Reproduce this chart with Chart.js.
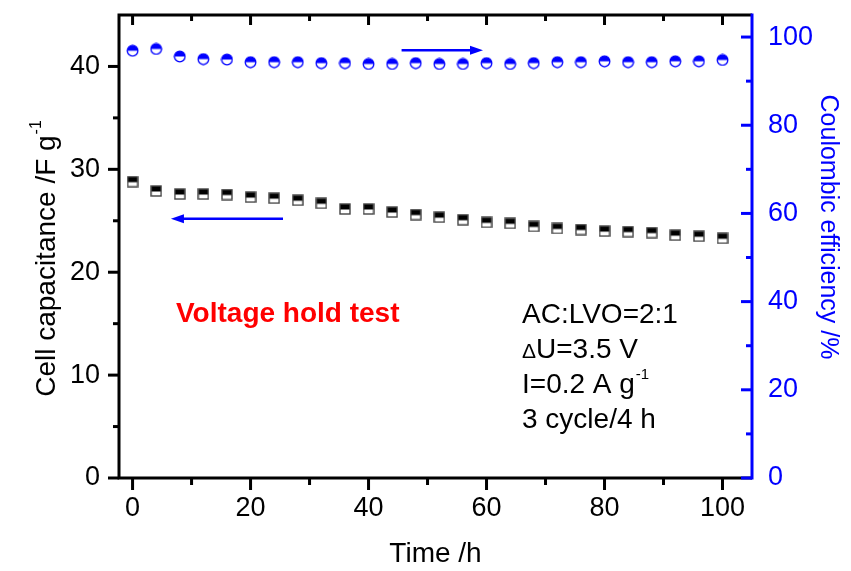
<!DOCTYPE html>
<html>
<head>
<meta charset="utf-8">
<title>Voltage hold test</title>
<script src="https://cdn.jsdelivr.net/npm/chart.js@4.4.0/dist/chart.umd.min.js"></script>
<style>
  html, body { margin: 0; padding: 0; background: #fff; }
  #wrap { width: 851px; height: 571px; }
</style>
</head>
<body>
<div id="wrap"><canvas id="chart" width="851" height="571"></canvas></div>
<script>
// --- data ---
const timeHours = [0, 4, 8, 12, 16, 20, 24, 28, 32, 36, 40, 44, 48, 52, 56, 60, 64, 68, 72, 76, 80, 84, 88, 92, 96, 100];
const capacitance = [28.8, 27.9, 27.6, 27.6, 27.55, 27.3, 27.2, 27.0, 26.7, 26.15, 26.15, 25.85, 25.6,
                     25.35, 25.1, 24.85, 24.75, 24.45, 24.25, 24.15, 24.0, 23.95, 23.85, 23.6, 23.5, 23.3];
const efficiency = [96.9, 97.3, 95.6, 95.0, 94.9, 94.3, 94.3, 94.3, 94.1, 94.1, 93.9, 93.9, 94.1,
                    93.9, 93.9, 94.1, 93.9, 94.1, 94.3, 94.3, 94.5, 94.3, 94.3, 94.5, 94.5, 94.8];

const xTicks = [0, 20, 40, 60, 80, 100];
const capTicks = [0, 10, 20, 30, 40];
const effTicks = [0, 20, 40, 60, 80, 100];

// arrows pointing to the axis each series belongs to
const effArrowX = [45.6, 59.4];   // tail -> head, on the efficiency axis
const effArrowY = 97.0;
const capArrowX = [25.5, 6.5];    // tail -> head, on the capacitance axis
const capArrowY = 25.2;

const noteLines = ['AC:LVO=2:1', 'U=3.5 V', 'I=0.2 A g', '3 cycle/4 h'];

const FONT = '"Liberation Sans", Arial, Helvetica, sans-serif';
const BLUE = '#0000ff';

// half filled markers, like Origin's
function halfSquare() {
  const c = document.createElement('canvas');
  c.width = 12; c.height = 12;
  const g = c.getContext('2d');
  g.fillStyle = '#fff';
  g.fillRect(1, 1, 10, 10);
  g.fillStyle = '#000';
  g.fillRect(1, 1, 10, 5.5);
  g.strokeStyle = '#444';
  g.lineWidth = 1.4;
  g.strokeRect(1, 1, 10, 10);
  return c;
}

function halfCircle() {
  const c = document.createElement('canvas');
  c.width = 13; c.height = 13;
  const g = c.getContext('2d');
  g.fillStyle = '#fff';
  g.beginPath(); g.arc(6.5, 6.5, 5.3, 0, Math.PI * 2); g.fill();
  g.fillStyle = BLUE;
  g.beginPath(); g.arc(6.5, 6.5, 5.3, Math.PI, Math.PI * 2); g.closePath(); g.fill();
  g.strokeStyle = BLUE;
  g.lineWidth = 1.3;
  g.beginPath(); g.arc(6.5, 6.5, 5.3, 0, Math.PI * 2); g.stroke();
  return c;
}

function midpoints(arr) {
  const out = [];
  for (let i = 0; i < arr.length - 1; i++) out.push((arr[i] + arr[i + 1]) / 2);
  return out;
}

function arrow(ctx, x1, x2, yy, color) {
  const dir = Math.sign(x2 - x1);
  ctx.strokeStyle = color;
  ctx.fillStyle = color;
  ctx.lineWidth = 2.5;
  ctx.beginPath();
  ctx.moveTo(x1, yy);
  ctx.lineTo(x2 - dir * 10, yy);
  ctx.stroke();
  ctx.beginPath();
  ctx.moveTo(x2, yy);
  ctx.lineTo(x2 - dir * 13, yy - 4.5);
  ctx.lineTo(x2 - dir * 13, yy + 4.5);
  ctx.closePath();
  ctx.fill();
}

// axes frame, ticks, titles, arrows and notes
const decor = {
  id: 'decor',
  afterDatasetsDraw(chart) {
    const { ctx, chartArea: a, scales: { x, y, y1 } } = chart;
    ctx.save();
    ctx.lineCap = 'butt';

    // black frame: left, bottom, top
    ctx.strokeStyle = '#000';
    ctx.lineWidth = 3;
    ctx.beginPath();
    ctx.moveTo(a.left, a.top - 1.5); ctx.lineTo(a.left, a.bottom + 1.5);
    ctx.moveTo(a.left - 1.5, a.bottom); ctx.lineTo(a.right, a.bottom);
    ctx.moveTo(a.left - 1.5, a.top); ctx.lineTo(a.right, a.top);
    ctx.stroke();

    // x ticks: outward at the bottom, inward at the top
    xTicks.forEach(v => {
      const px = x.getPixelForValue(v);
      ctx.beginPath();
      ctx.moveTo(px, a.bottom); ctx.lineTo(px, a.bottom + 12);
      ctx.moveTo(px, a.top); ctx.lineTo(px, a.top + 10);
      ctx.stroke();
    });
    midpoints(xTicks).forEach(v => {
      const px = x.getPixelForValue(v);
      ctx.beginPath();
      ctx.moveTo(px, a.bottom); ctx.lineTo(px, a.bottom + 7);
      ctx.moveTo(px, a.top); ctx.lineTo(px, a.top + 6);
      ctx.stroke();
    });

    // left ticks, outward
    capTicks.forEach(v => {
      const py = y.getPixelForValue(v);
      ctx.beginPath(); ctx.moveTo(a.left, py); ctx.lineTo(a.left - 11, py); ctx.stroke();
    });
    midpoints(capTicks).forEach(v => {
      const py = y.getPixelForValue(v);
      ctx.beginPath(); ctx.moveTo(a.left, py); ctx.lineTo(a.left - 6, py); ctx.stroke();
    });

    // right axis in blue, ticks inward
    ctx.strokeStyle = BLUE;
    ctx.beginPath();
    ctx.moveTo(a.right, a.top - 1.5); ctx.lineTo(a.right, a.bottom + 1.5);
    ctx.stroke();
    effTicks.forEach(v => {
      const py = y1.getPixelForValue(v);
      ctx.beginPath(); ctx.moveTo(a.right, py); ctx.lineTo(a.right - 11, py); ctx.stroke();
    });
    midpoints(effTicks).forEach(v => {
      const py = y1.getPixelForValue(v);
      ctx.beginPath(); ctx.moveTo(a.right, py); ctx.lineTo(a.right - 6, py); ctx.stroke();
    });

    // arrows
    arrow(ctx, x.getPixelForValue(effArrowX[0]), x.getPixelForValue(effArrowX[1]), y1.getPixelForValue(effArrowY), BLUE);
    arrow(ctx, x.getPixelForValue(capArrowX[0]), x.getPixelForValue(capArrowX[1]), y.getPixelForValue(capArrowY), BLUE);

    // axis titles
    ctx.fillStyle = '#000';
    ctx.textBaseline = 'alphabetic';
    ctx.font = '28px ' + FONT;
    ctx.textAlign = 'center';
    ctx.fillText('Time /h', (a.left + a.right) / 2, 562);

    ctx.save();
    ctx.translate(55, 259);
    ctx.rotate(-Math.PI / 2);
    ctx.textAlign = 'left';
    const mainT = 'Cell capacitance /F g';
    ctx.font = '28px ' + FONT;
    const wMain = ctx.measureText(mainT).width;
    ctx.font = '16px ' + FONT;
    const wSup = ctx.measureText('-1').width;
    const x0 = -(wMain + wSup) / 2;
    ctx.font = '28px ' + FONT;
    ctx.fillText(mainT, x0, 0);
    ctx.font = '16px ' + FONT;
    ctx.fillText('-1', x0 + wMain + 1, -14);
    ctx.restore();

    ctx.save();
    ctx.translate(821, 227);
    ctx.rotate(Math.PI / 2);
    ctx.fillStyle = BLUE;
    ctx.textAlign = 'center';
    ctx.font = '25px ' + FONT;
    ctx.fillText('Coulombic efficiency /%', 0, 0);
    ctx.restore();

    // notes
    ctx.textAlign = 'left';
    ctx.fillStyle = '#ff0000';
    ctx.font = 'bold 28px ' + FONT;
    ctx.fillText('Voltage hold test', 176, 322);

    ctx.fillStyle = '#000';
    const nx = 522;
    const base = [323, 358, 393, 428];
    ctx.font = '28px ' + FONT;
    ctx.fillText(noteLines[0], nx, base[0]);
    // delta sign is a bit smaller in the original
    ctx.font = '21px ' + FONT;
    ctx.fillText('\u0394', nx, base[1]);
    const wD = ctx.measureText('\u0394').width;
    ctx.font = '28px ' + FONT;
    ctx.fillText(noteLines[1], nx + wD, base[1]);
    ctx.fillText(noteLines[2], nx, base[2]);
    const wI = ctx.measureText(noteLines[2]).width;
    ctx.font = '15px ' + FONT;
    ctx.fillText('-1', nx + wI + 1, base[2] - 14);
    ctx.font = '28px ' + FONT;
    ctx.fillText(noteLines[3], nx, base[3]);

    ctx.restore();
  }
};

const tickFont = { family: FONT, size: 27 };

new Chart(document.getElementById('chart'), {
  type: 'scatter',
  data: {
    datasets: [
      {
        label: 'Cell capacitance',
        data: timeHours.map((t, i) => ({ x: t, y: capacitance[i] })),
        yAxisID: 'y',
        pointStyle: halfSquare(),
        pointRadius: 5,
        showLine: false
      },
      {
        label: 'Coulombic efficiency',
        data: timeHours.map((t, i) => ({ x: t, y: efficiency[i] })),
        yAxisID: 'y1',
        pointStyle: halfCircle(),
        pointRadius: 5,
        showLine: false
      }
    ]
  },
  options: {
    responsive: false,
    animation: false,
    layout: { padding: { top: 15, left: 0, right: 0, bottom: 0 } },
    plugins: {
      legend: { display: false },
      tooltip: { enabled: false }
    },
    scales: {
      x: {
        type: 'linear',
        min: -2.3,
        max: 105,
        afterBuildTicks: s => { s.ticks = xTicks.map(v => ({ value: v })); },
        afterFit: s => { s.height = 93; s.paddingLeft = 0; s.paddingRight = 0; },
        grid: { display: false },
        border: { display: false },
        ticks: { font: tickFont, color: '#000', padding: 6, maxRotation: 0 }
      },
      y: {
        type: 'linear',
        position: 'left',
        min: 0,
        max: 45,
        afterBuildTicks: s => { s.ticks = capTicks.map(v => ({ value: v })); },
        afterFit: s => { s.width = 119; s.paddingTop = 0; s.paddingBottom = 0; },
        grid: { display: false },
        border: { display: false },
        ticks: { font: tickFont, color: '#000', padding: 11 }
      },
      y1: {
        type: 'linear',
        position: 'right',
        min: 0,
        max: 105,
        afterBuildTicks: s => { s.ticks = effTicks.map(v => ({ value: v })); },
        afterFit: s => { s.width = 99; s.paddingTop = 0; s.paddingBottom = 0; },
        grid: { display: false },
        border: { display: false },
        ticks: { font: tickFont, color: BLUE, padding: 8 }
      }
    }
  },
  plugins: [decor]
});
</script>
</body>
</html>
